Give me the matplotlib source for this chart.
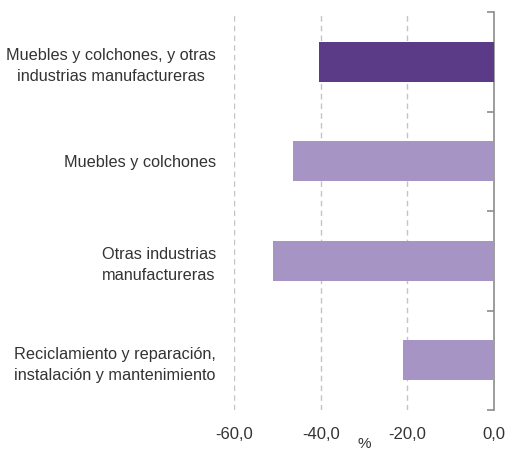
import matplotlib.pyplot as plt
import numpy as np

plt.rcParams['font.family'] = ['Liberation Sans', 'DejaVu Sans']

categories = [
    'Muebles y colchones, y otras\nindustrias manufactureras',
    'Muebles y colchones',
    'Otras industrias\nmanufactureras',
    'Reciclamiento y reparación,\ninstalación y mantenimiento',
]
values = [-40.4, -46.4, -51.0, -21.0]
colors = ['#5b3a87', '#a594c4', '#a594c4', '#a594c4']
xticks = [-60, -40, -20, 0]

fig = plt.figure(figsize=(5.08, 4.5), dpi=100)
ax = fig.add_axes([0.4606, 0.0889, 0.5118, 0.8844])

y = np.arange(len(categories))
ax.barh(y, values, height=0.4, color=colors, zorder=3)

ax.set_xlim(-60, 0)
ax.set_ylim(len(categories) - 0.5, -0.5)

# dashed vertical gridlines
for xv in xticks[:-1]:
    ax.axvline(xv, color='#c4c4c4', linestyle=(0, (4, 3)), linewidth=1.0, zorder=1)

for s in ['top', 'bottom', 'left']:
    ax.spines[s].set_visible(False)
ax.spines['right'].set_color('#8c8c8c')
ax.spines['right'].set_linewidth(1.2)

ax.set_xticks(xticks)
ax.set_xticklabels([f'{v:.1f}'.replace('.', ',') for v in xticks])
ax.tick_params(axis='x', length=0, pad=12, labelsize=12, labelcolor='#333333')

ax.set_yticks(y)
ax.set_yticklabels(categories)
ax.tick_params(axis='y', which='major', length=0, pad=13, labelsize=11.7,
               labelcolor='#333333')
for lab in ax.get_yticklabels():
    lab.set_multialignment('center')
    lab.set_linespacing(1.5)

# boundary ticks on the value axis at 0
ax.set_yticks(np.arange(-0.5, len(categories)), minor=True)
ax.tick_params(axis='y', which='minor', left=False, right=True, direction='in',
               length=5, width=1.2, color='#8c8c8c')

ax.set_xlabel('%', fontsize=11, color='#333333', labelpad=-3)

fig.savefig('out.png', dpi=100)
